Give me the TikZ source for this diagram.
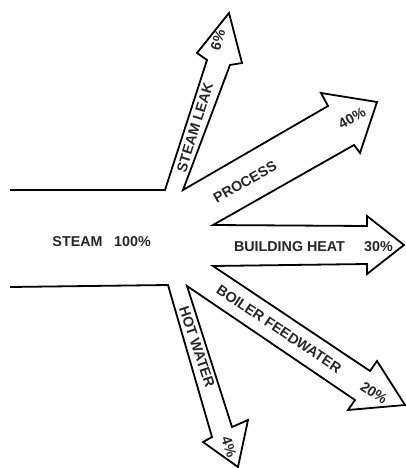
\documentclass[tikz,border=0pt]{standalone}
\usepackage{fontspec}
\setmainfont{Liberation Sans}
\begin{document}
\begin{tikzpicture}[x=1pt,y=-1pt,
  outline/.style={draw=black,line width=1.8pt,line join=miter},
  lbl/.style={font=\fontsize{14.3}{16}\selectfont\bfseries,inner sep=0pt,text=black!85}]
\useasboundingbox (0,0) rectangle (406,468);
% incoming steam band
\coordinate (inT) at (10,190);
\coordinate (inTc) at (165,190);
\coordinate (inB) at (10,287);
\coordinate (inBc) at (168,285);
% steam leak arrow
\coordinate (slL) at (207,60);
\coordinate (slLo) at (197,53);
\coordinate (slTip) at (229,13);
\coordinate (slRo) at (242,63);
\coordinate (slR) at (230,65);
\coordinate (slBase) at (183,190);
% process arrow
\coordinate (prT) at (328,106);
\coordinate (prTo) at (321,93);
\coordinate (prTip) at (377,102);
\coordinate (prBo) at (360,153);
\coordinate (prB) at (354,145);
\coordinate (prBase) at (213,225);
% building heat arrow
\coordinate (bhT) at (367,226);
\coordinate (bhTo) at (367,216);
\coordinate (bhTip) at (404,245);
\coordinate (bhBo) at (367,274);
\coordinate (bhB) at (367,264);
\coordinate (bhBase) at (213,266);
% boiler feedwater arrow
\coordinate (bfT) at (370,371);
\coordinate (bfTo) at (377,361);
\coordinate (bfTip) at (405,405);
\coordinate (bfBo) at (348,410);
\coordinate (bfB) at (355,400);
\coordinate (bfBase) at (187,286);
% hot water arrow
\coordinate (hwR) at (232,427);
\coordinate (hwRo) at (248,420);
\coordinate (hwTip) at (238,467);
\coordinate (hwLo) at (203,442);
\coordinate (hwL) at (212,437);

\draw[outline] (inT) -- (inTc) -- (slL) -- (slLo) -- (slTip) -- (slRo) -- (slR)
  -- (slBase) -- (prT) -- (prTo) -- (prTip) -- (prBo) -- (prB) -- (prBase)
  -- (bhT) -- (bhTo) -- (bhTip) -- (bhBo) -- (bhB) -- (bhBase)
  -- (bfT) -- (bfTo) -- (bfTip) -- (bfBo) -- (bfB) -- (bfBase)
  -- (hwR) -- (hwRo) -- (hwTip) -- (hwLo) -- (hwL) -- (inBc) -- (inB);

% labels
\node[lbl] (steam) at (77.5,242) {STEAM};
\node[lbl] (hundred) at (132.5,242) {100\%};
\node[lbl,rotate=72.7,anchor=west] (leak) at (181,172) {STEAM LEAK};
\node[lbl,rotate=72.7] (six) at (218,40) {6\%};
\node[lbl,rotate=29.5] (process) at (245,182) {PROCESS};
\node[lbl,rotate=29.5] (forty) at (352,118) {40\%};
\node[lbl] (heat) at (289.5,247) {BUILDING HEAT};
\node[lbl] (thirty) at (378.5,247) {30\%};
\node[lbl,rotate=-33.8] (boiler) at (279,329) {BOILER FEEDWATER};
\node[lbl,rotate=-33.8] (twenty) at (374,393) {20\%};
\node[lbl,rotate=-71.5] (hot) at (197,347) {HOT WATER};
\node[lbl,rotate=-71.5] (four) at (229,447) {4\%};
\end{tikzpicture}
\end{document}
